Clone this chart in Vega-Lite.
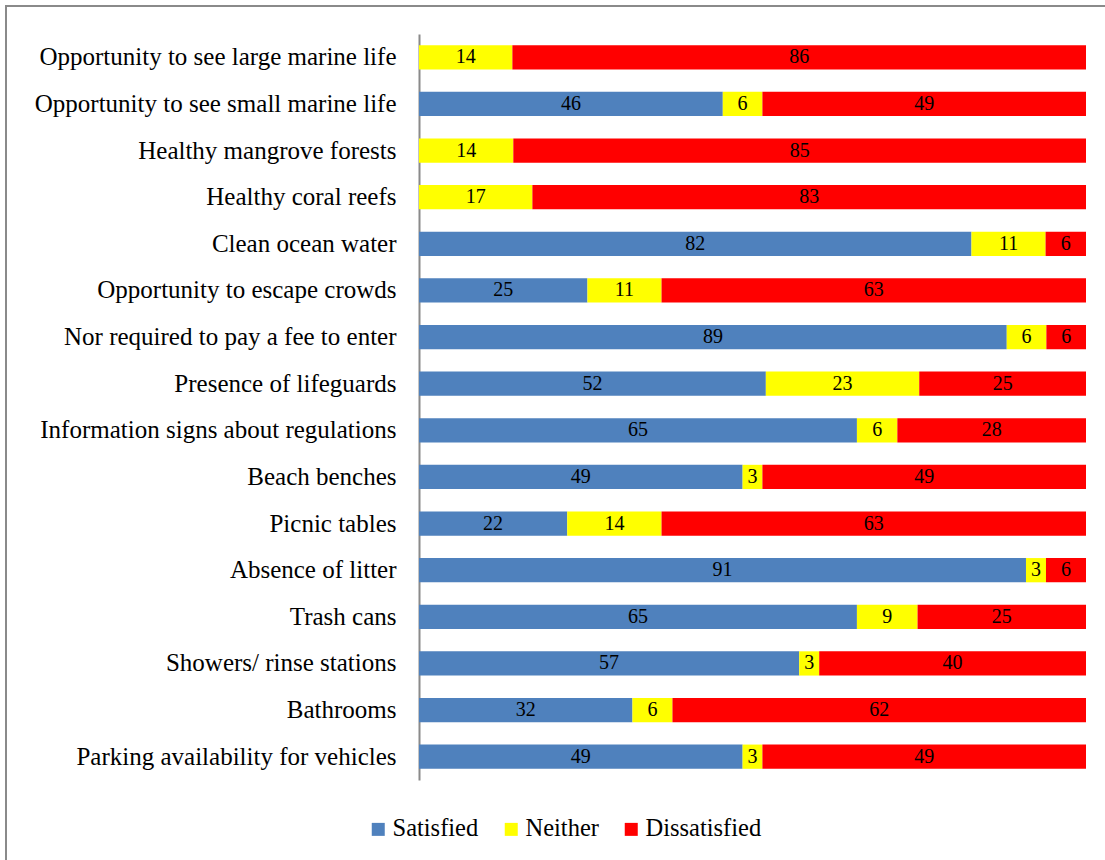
{
  "$schema": "https://vega.github.io/schema/vega-lite/v6.json",
  "autosize": {"type": "none"},
  "padding": {"left": 6, "top": 6, "right": 0, "bottom": 0},
  "width": 1100,
  "height": 856,
  "background": "white",
  "config": {
    "view": {"stroke": "#8a8a8a", "strokeWidth": 2},
    "font": "Liberation Serif"
  },
  "data": {
    "values": [
      {"item": "Opportunity to see large marine life", "response": "Neither", "value": 14},
      {"item": "Opportunity to see large marine life", "response": "Dissatisfied", "value": 86},
      {"item": "Opportunity to see small marine life", "response": "Satisfied", "value": 46},
      {"item": "Opportunity to see small marine life", "response": "Neither", "value": 6},
      {"item": "Opportunity to see small marine life", "response": "Dissatisfied", "value": 49},
      {"item": "Healthy mangrove forests", "response": "Neither", "value": 14},
      {"item": "Healthy mangrove forests", "response": "Dissatisfied", "value": 85},
      {"item": "Healthy coral reefs", "response": "Neither", "value": 17},
      {"item": "Healthy coral reefs", "response": "Dissatisfied", "value": 83},
      {"item": "Clean ocean water", "response": "Satisfied", "value": 82},
      {"item": "Clean ocean water", "response": "Neither", "value": 11},
      {"item": "Clean ocean water", "response": "Dissatisfied", "value": 6},
      {"item": "Opportunity to escape crowds", "response": "Satisfied", "value": 25},
      {"item": "Opportunity to escape crowds", "response": "Neither", "value": 11},
      {"item": "Opportunity to escape crowds", "response": "Dissatisfied", "value": 63},
      {"item": "Nor required to pay a fee to enter", "response": "Satisfied", "value": 89},
      {"item": "Nor required to pay a fee to enter", "response": "Neither", "value": 6},
      {"item": "Nor required to pay a fee to enter", "response": "Dissatisfied", "value": 6},
      {"item": "Presence of lifeguards", "response": "Satisfied", "value": 52},
      {"item": "Presence of lifeguards", "response": "Neither", "value": 23},
      {"item": "Presence of lifeguards", "response": "Dissatisfied", "value": 25},
      {"item": "Information signs about regulations", "response": "Satisfied", "value": 65},
      {"item": "Information signs about regulations", "response": "Neither", "value": 6},
      {"item": "Information signs about regulations", "response": "Dissatisfied", "value": 28},
      {"item": "Beach benches", "response": "Satisfied", "value": 49},
      {"item": "Beach benches", "response": "Neither", "value": 3},
      {"item": "Beach benches", "response": "Dissatisfied", "value": 49},
      {"item": "Picnic tables", "response": "Satisfied", "value": 22},
      {"item": "Picnic tables", "response": "Neither", "value": 14},
      {"item": "Picnic tables", "response": "Dissatisfied", "value": 63},
      {"item": "Absence of litter", "response": "Satisfied", "value": 91},
      {"item": "Absence of litter", "response": "Neither", "value": 3},
      {"item": "Absence of litter", "response": "Dissatisfied", "value": 6},
      {"item": "Trash cans", "response": "Satisfied", "value": 65},
      {"item": "Trash cans", "response": "Neither", "value": 9},
      {"item": "Trash cans", "response": "Dissatisfied", "value": 25},
      {"item": "Showers/ rinse stations", "response": "Satisfied", "value": 57},
      {"item": "Showers/ rinse stations", "response": "Neither", "value": 3},
      {"item": "Showers/ rinse stations", "response": "Dissatisfied", "value": 40},
      {"item": "Bathrooms", "response": "Satisfied", "value": 32},
      {"item": "Bathrooms", "response": "Neither", "value": 6},
      {"item": "Bathrooms", "response": "Dissatisfied", "value": 62},
      {"item": "Parking availability for vehicles", "response": "Satisfied", "value": 49},
      {"item": "Parking availability for vehicles", "response": "Neither", "value": 3},
      {"item": "Parking availability for vehicles", "response": "Dissatisfied", "value": 49}
    ]
  },
  "transform": [
    {"stack": "value", "groupby": ["item"], "sort": [{"field": "response", "order": "descending"}], "offset": "normalize", "as": ["x0", "x1"]}
  ],
  "encoding": {
    "y": {
      "field": "item", "type": "nominal",
      "sort": ["Opportunity to see large marine life", "Opportunity to see small marine life", "Healthy mangrove forests", "Healthy coral reefs", "Clean ocean water", "Opportunity to escape crowds", "Nor required to pay a fee to enter", "Presence of lifeguards", "Information signs about regulations", "Beach benches", "Picnic tables", "Absence of litter", "Trash cans", "Showers/ rinse stations", "Bathrooms", "Parking availability for vehicles"],
      "scale": {"range": [28, 774], "paddingInner": 0.48, "paddingOuter": 0.24},
      "axis": {
        "title": null, "offset": -413, "ticks": false, "domainColor": "#8a8a8a", "domainWidth": 2,
        "labelFont": "Liberation Serif", "labelFontSize": 25, "labelColor": "black", "labelPadding": 23, "labelLimit": 500
      }
    }
  },
  "layer": [
    {
      "mark": {"type": "bar"},
      "encoding": {
        "x": {"field": "x0", "type": "quantitative", "scale": {"domain": [0, 1], "range": [413, 1080], "nice": false, "zero": false}, "axis": null},
        "x2": {"field": "x1"},
        "color": {
          "field": "response", "type": "nominal",
          "scale": {"domain": ["Satisfied", "Neither", "Dissatisfied"], "range": ["#4F81BD", "#FFFF00", "#FF0000"]},
          "legend": {
            "title": null, "orient": "none", "direction": "horizontal", "legendX": 360, "legendY": 811,
            "symbolType": "square", "symbolSize": 169, "symbolStrokeWidth": 0, "symbolOpacity": 1,
            "labelFont": "Liberation Serif", "labelFontSize": 24.5, "labelColor": "black", "labelOffset": 2, "columnPadding": 20
          }
        }
      }
    },
    {
      "transform": [
        {"fold": ["x0", "x1"], "as": ["edge", "pos"]},
        {"aggregate": [{"op": "mean", "field": "pos", "as": "mid"}], "groupby": ["item", "response", "value"]}
      ],
      "mark": {"type": "text", "font": "Liberation Serif", "fontSize": 20, "color": "black", "align": "center", "baseline": "middle"},
      "encoding": {
        "x": {"field": "mid", "type": "quantitative"},
        "text": {"field": "value", "type": "quantitative"}
      }
    }
  ]
}
